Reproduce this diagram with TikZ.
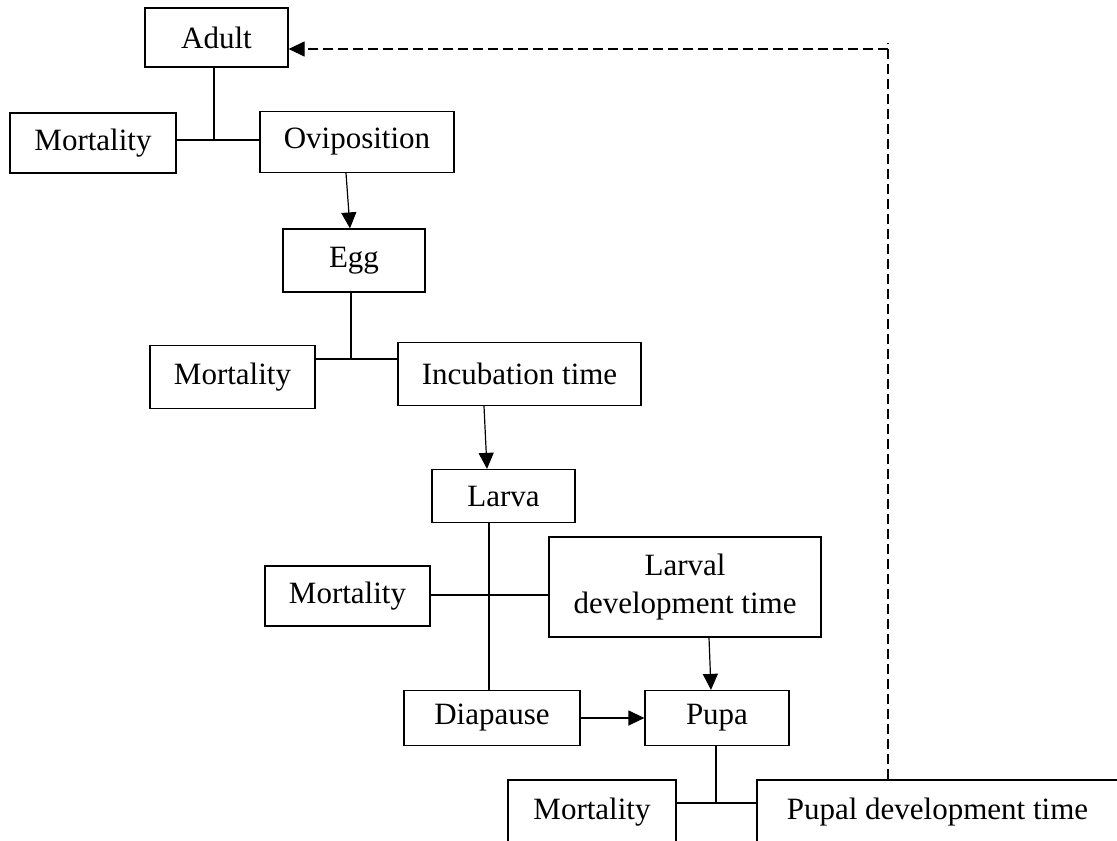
\documentclass[tikz,border=0pt]{standalone}
\usepackage{fontspec}
\setmainfont{Liberation Serif}
\usetikzlibrary{arrows.meta,calc}
\begin{document}
\begin{tikzpicture}[x=1pt,y=-1pt,
  box/.style={draw, line width=1.2pt, inner sep=0pt, align=center,
    font=\fontsize{31}{38}\selectfont},
  conn/.style={line width=1.2pt},
  tip/.style={-{Triangle[length=16pt,width=15pt]}},
  arr/.style={line width=1.2pt, tip},
  dashline/.style={line width=1.2pt, dash pattern=on 10pt off 5pt}]
\useasboundingbox (0,0) rectangle (1117,841);
% nodes
\node[box, minimum width=143pt, minimum height=59pt] (adult) at (216.5,37.5) {Adult};
\node[box, minimum width=166pt, minimum height=60pt] (m1) at (93,143) {Mortality};
\node[box, minimum width=194pt, minimum height=61pt] (ovi) at (357,142) {Oviposition};
\node[box, minimum width=142pt, minimum height=63pt] (egg) at (354,260.5) {Egg};
\node[box, minimum width=165pt, minimum height=63pt] (m2) at (232.5,377) {Mortality};
\node[box, minimum width=243pt, minimum height=63pt] (inc) at (519.5,374) {Incubation time};
\node[box, minimum width=143pt, minimum height=53pt] (larva) at (503.5,496) {Larva};
\node[box, minimum width=165pt, minimum height=60pt] (m3) at (347.5,596) {Mortality};
\node[box, minimum width=272pt, minimum height=100pt] (ldt) at (685,587) {Larval\\development time};
\node[box, minimum width=176pt, minimum height=55pt] (dia) at (492,718) {Diapause};
\node[box, minimum width=144pt, minimum height=55pt] (pupa) at (717,718) {Pupa};
\node[box, minimum width=168pt, minimum height=64pt] (m4) at (592,812) {Mortality};
\node[box, minimum width=361pt, minimum height=64pt] (pupal) at (937.5,812) {Pupal development time};
% junctions
\coordinate (j1) at (214,140);
\coordinate (j2) at (351,359);
\coordinate (j3) at (489,595);
\coordinate (j4) at (716,803);
\coordinate (dtop) at (888,43);
\coordinate (dcorner) at (888,49);
% connectors
\draw[conn] (adult.south -| j1) -- (j1);
\draw[conn] (m1.east |- j1) -- (ovi.west |- j1);
\draw[arr] ($(ovi.south)+(-11,0)$) -- ($(egg.north)+(-4,0)$);
\draw[conn] (egg.south -| j2) -- (j2);
\draw[conn] (m2.east |- j2) -- (inc.west |- j2);
\draw[arr] ($(inc.south)+(-35.5,0)$) -- ($(larva.north)+(-16.5,0)$);
\draw[conn] (larva.south -| j3) -- (dia.north -| j3);
\draw[conn] (m3.east |- j3) -- (ldt.west |- j3);
\draw[arr] ($(ldt.south)+(24,0)$) -- ($(pupa.north)+(-6,0)$);
\draw[arr] (dia.east) -- (pupa.west);
\draw[conn] (pupa.south -| j4) -- (j4);
\draw[conn] (m4.east |- j4) -- (pupal.west |- j4);
% dashed feedback
\draw[dashline] (pupal.north -| dtop) -- (dtop);
\draw[dashline, tip] (dcorner) -- (adult.east |- dcorner);
\end{tikzpicture}
\end{document}
